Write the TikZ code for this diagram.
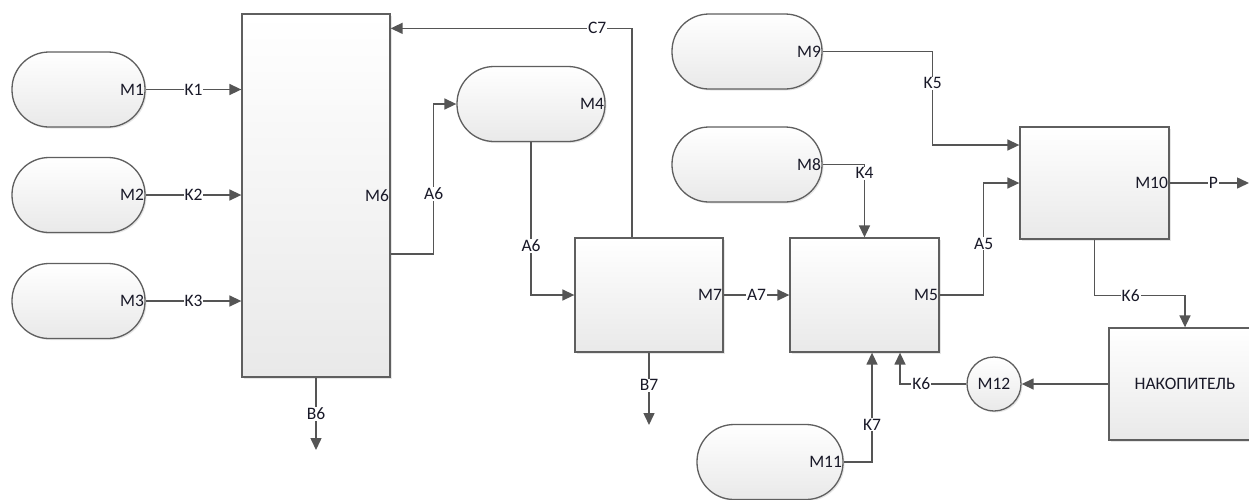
\documentclass[tikz,border=0pt]{standalone}
\usepackage{fontspec}
\setmainfont{Carlito}
\usetikzlibrary{arrows.meta,positioning,calc,shadows}
\definecolor{LinhaGray}{RGB}{85,85,85}
\definecolor{BordaGray}{RGB}{95,95,95}
\definecolor{FundoGray}{RGB}{233,233,233}
\definecolor{TextoDark}{RGB}{25,25,40}
\tikzset{
  bloco/.style={draw=BordaGray, line width=1.3pt, top color=white, bottom color=FundoGray,
                text=TextoDark, inner sep=2pt,
                drop shadow={shadow xshift=1.5pt, shadow yshift=-1.5pt, opacity=0.2}},
  capsula/.style={bloco, rounded corners=37pt, minimum height=75pt},
  circulo/.style={bloco, circle, minimum size=54pt, inner sep=0pt},
  rotulo/.style={anchor=east, inner sep=1.5pt, text=TextoDark},
  % Uma seta para todos os fluxos
  fluxo/.style={-{Triangle[length=12pt,width=11pt]}, line width=1.5pt, LinhaGray},
  rlabel/.style={fill=white, inner sep=1pt, text=TextoDark},
}

\begin{document}
\begin{tikzpicture}[x=1pt, y=-1pt, font=\fontsize{17.5}{20}\selectfont]
  \useasboundingbox (0,0) rectangle (1249,499);

  % --- Fontes e bloco M6 ------------------------------------------------------
  \node[capsula, minimum width=133pt, label={[rotulo]east:M1}] (m1) at (78.5, 89.5) {};
  \node[capsula, minimum width=133pt, label={[rotulo]east:M2}] (m2) at (78.5, 195)  {};
  \node[capsula, minimum width=133pt, label={[rotulo]east:M3}] (m3) at (78.5, 301)  {};
  \node[bloco, minimum width=148pt, minimum height=363pt, label={[rotulo]east:M6}] (m6) at (316, 195.5) {};

  \draw[fluxo] (m1.east) -- node[rlabel]{K1} (m1.east -| m6.west);
  \draw[fluxo] (m2.east) -- node[rlabel]{K2} (m2.east -| m6.west);
  \draw[fluxo] (m3.east) -- node[rlabel]{K3} (m3.east -| m6.west);

  \coordinate (b6end) at (316, 450);
  \draw[fluxo] (m6.south) -- node[rlabel,pos=0.5]{B6} (b6end);

  % --- M4, M7, M5 -------------------------------------------------------------
  \node[capsula, minimum width=148pt, label={[rotulo]east:M4}] (m4) at (531, 104) {};
  \node[bloco, minimum width=148pt, minimum height=114pt, label={[rotulo]east:M7}] (m7) at (649, 295) {};
  \node[bloco, minimum width=149pt, minimum height=114pt, label={[rotulo]east:M5}] (m5) at (864.5, 295) {};

  \draw[fluxo] ([yshift=-58.5pt]m6.east) -- ++(43,0) |- node[rlabel,pos=0.2]{A6} (m4.west);
  \draw[fluxo] (m4.south) |- node[rlabel,pos=0.34]{A6} (m7.west);
  \draw[fluxo] ([xshift=-17pt]m7.north) |- node[rlabel,pos=0.572]{C7} ([yshift=-15pt]m6.north east);
  \draw[fluxo] (m7.east) -- node[rlabel]{A7} (m5.west);

  \coordinate (b7end) at (649, 425);
  \draw[fluxo] (m7.south) -- node[rlabel,pos=0.45]{B7} (b7end);

  % --- M9, M8, M10 e saída P --------------------------------------------------
  \node[capsula, minimum width=150pt, label={[rotulo]east:M9}] (m9) at (747, 51.5)  {};
  \node[capsula, minimum width=150pt, label={[rotulo]east:M8}] (m8) at (747, 164.5) {};
  \node[bloco, minimum width=149pt, minimum height=112pt, label={[rotulo]east:M10}] (m10) at (1094.5, 183) {};

  \draw[fluxo] (m9.east) -- ++(110,0) |- node[rlabel,pos=0.17]{K5} ([yshift=38pt]m10.west);
  \draw[fluxo] (m8.east) -| node[rlabel,pos=0.56]{K4} (m5.north);
  \draw[fluxo] (m5.east) -- ++(44,0) |- node[rlabel,pos=0.23]{A5} (m10.west);

  \coordinate (pend) at (1249, 183);
  \draw[fluxo] (m10.east) -- node[rlabel,pos=0.55]{P} (pend);

  % --- Накопитель e retorno por M12 -------------------------------------------
  \node[bloco, minimum width=152pt, minimum height=112pt] (nak) at (1185, 384) {НАКОПИТЕЛЬ};
  \node[circulo] (m12) at (994, 384) {M12};
  \node[capsula, minimum width=146pt, label={[rotulo]east:M11}] (m11) at (770, 462) {};

  \draw[fluxo] (m10.south) -- ++(0,56) -| node[rlabel,pos=0.2]{K6} (nak.north);
  \draw[fluxo] (nak.west) -- (m12.east);
  \draw[fluxo] (m12.west) -| node[rlabel,pos=0.34]{K6} ([xshift=35.5pt]m5.south);
  \draw[fluxo] (m11.east) -| node[rlabel,pos=0.67]{K7} ([xshift=7.5pt]m5.south);

\end{tikzpicture}
\end{document}
